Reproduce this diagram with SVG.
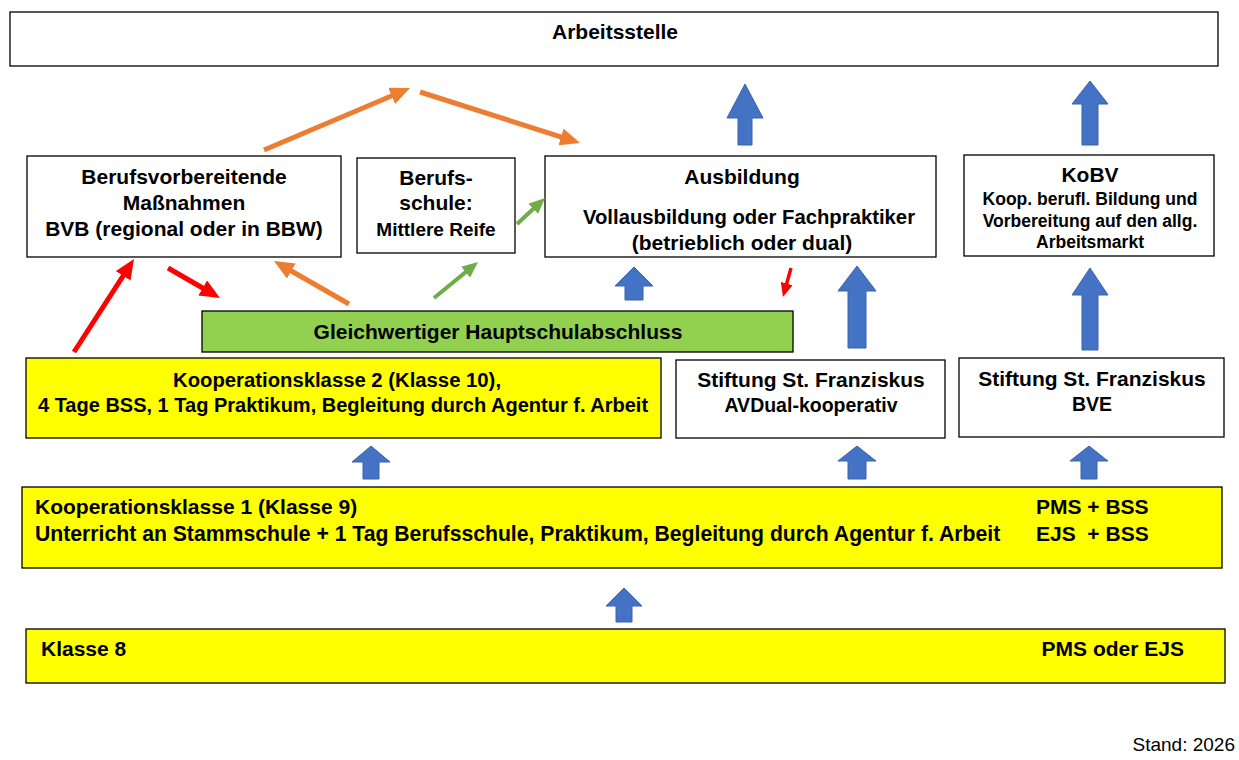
<svg xmlns="http://www.w3.org/2000/svg" width="1239" height="760" viewBox="0 0 1239 760">
<style>
text{font-family:"Liberation Sans",Arial,sans-serif;font-weight:bold;font-size:21px;fill:#000}
.c{text-anchor:middle}
.box{fill:#fff;stroke:#000;stroke-width:1.3}
.yel{fill:#ffff00;stroke:#000;stroke-width:1.3}
.grn{fill:#92d050;stroke:#000;stroke-width:1.3}
.blk{fill:#4472c4;stroke:#3a62ab;stroke-width:1}
.o{stroke:#ed7d31;stroke-width:5;fill:none}
.g{stroke:#70ad47;stroke-width:4;fill:none}
.r{stroke:#ff0000;stroke-width:5;fill:none}
</style>
<defs>
<marker id="ho" viewBox="0 0 4 3.5" refX="1.6" refY="1.75" markerWidth="4" markerHeight="3.5" orient="auto" markerUnits="strokeWidth"><path d="M0,0 L4,1.75 L0,3.5 z" fill="#ed7d31"/></marker>
<marker id="hg" viewBox="0 0 4 3.5" refX="1.6" refY="1.75" markerWidth="4" markerHeight="3.5" orient="auto" markerUnits="strokeWidth"><path d="M0,0 L4,1.75 L0,3.5 z" fill="#70ad47"/></marker>
<marker id="hr" viewBox="0 0 4 3.5" refX="1.6" refY="1.75" markerWidth="4" markerHeight="3.5" orient="auto" markerUnits="strokeWidth"><path d="M0,0 L4,1.75 L0,3.5 z" fill="#ff0000"/></marker>
</defs>
<rect width="1239" height="760" fill="#fff"/>

<g id="arbeitsstelle"><rect class="box" x="10" y="12" width="1208" height="54"/><text class="c" x="615" y="39">Arbeitsstelle</text></g>

<g id="bvb"><rect class="box" x="27" y="156" width="314" height="101"/>
<text class="c" x="184" y="184">Berufsvorbereitende</text>
<text class="c" x="184" y="210">Maßnahmen</text>
<text class="c" x="184" y="236">BVB (regional oder in BBW)</text></g>

<g id="berufsschule"><rect class="box" x="357" y="158" width="158" height="95"/>
<text class="c" x="436" y="185">Berufs-</text>
<text class="c" x="436" y="210">schule:</text>
<text class="c" x="436" y="236" style="font-size:19px">Mittlere Reife</text></g>

<g id="ausbildung"><rect class="box" x="545" y="156" width="391" height="101"/>
<text class="c" x="742" y="184">Ausbildung</text>
<text class="c" x="749" y="224" style="font-size:20.3px">Vollausbildung oder Fachpraktiker</text>
<text class="c" x="742" y="250">(betrieblich oder dual)</text></g>

<g id="kobv"><rect class="box" x="964" y="155" width="250" height="101"/>
<text class="c" x="1090" y="182">KoBV</text>
<text class="c" x="1090" y="205" style="font-size:17.5px">Koop. berufl. Bildung und</text>
<text class="c" x="1090" y="227" style="font-size:17.5px">Vorbereitung auf den allg.</text>
<text class="c" x="1090" y="248" style="font-size:17.5px">Arbeitsmarkt</text></g>

<g id="hauptschulabschluss"><rect class="grn" x="202" y="311" width="591" height="41"/>
<text class="c" x="498" y="339">Gleichwertiger Hauptschulabschluss</text></g>

<g id="koop2"><rect class="yel" x="26" y="358" width="635" height="80"/>
<text class="c" x="337" y="387" style="font-size:20.3px">Kooperationsklasse 2 (Klasse 10),</text>
<text class="c" x="343" y="412" style="font-size:20px">4 Tage BSS, 1 Tag Praktikum, Begleitung durch Agentur f. Arbeit</text></g>

<g id="avdual"><rect class="box" x="676" y="360" width="269" height="78"/>
<text class="c" x="811" y="387">Stiftung St. Franziskus</text>
<text class="c" x="811" y="412" style="font-size:19.5px">AVDual-kooperativ</text></g>

<g id="bve"><rect class="box" x="959" y="358" width="265" height="79"/>
<text class="c" x="1092" y="386">Stiftung St. Franziskus</text>
<text class="c" x="1092" y="411" style="font-size:19.5px">BVE</text></g>

<g id="koop1"><rect class="yel" x="22" y="487" width="1200" height="81"/>
<text x="35" y="514">Kooperationsklasse 1 (Klasse 9)</text>
<text x="35" y="541" style="font-size:21.2px">Unterricht an Stammschule + 1 Tag Berufsschule, Praktikum, Begleitung durch Agentur f. Arbeit</text>
<text x="1036" y="514">PMS + BSS</text>
<text x="1036" y="541" xml:space="preserve">EJS  + BSS</text></g>

<g id="klasse8"><rect class="yel" x="26" y="629" width="1199" height="54"/>
<text x="41" y="656">Klasse 8</text>
<text x="1184" y="656" style="text-anchor:end">PMS oder EJS</text></g>

<g id="stand"><text x="1235" y="751" style="text-anchor:end;font-weight:normal;font-size:19px">Stand: 2026</text></g>

<g id="connectors">
<path class="blk" d="M745,84 L763,118 L752,118 L752,145 L738,145 L738,118 L727,118 Z"/>
<path class="blk" d="M1090,81 L1108,104 L1098,104 L1098,145 L1082,145 L1082,104 L1072,104 Z"/>
<path class="blk" d="M634,267 L653,286 L643,286 L643,300 L625,300 L625,286 L615,286 Z"/>
<path class="blk" d="M857,266 L876,291 L866,291 L866,348 L848,348 L848,291 L838,291 Z"/>
<path class="blk" d="M1090,268 L1108,295 L1098,295 L1098,350 L1082,350 L1082,295 L1072,295 Z"/>
<path class="blk" d="M371,446 L390,462 L379,462 L379,479 L363,479 L363,462 L352,462 Z"/>
<path class="blk" d="M857,446 L876,461 L866,461 L866,479 L848,479 L848,461 L838,461 Z"/>
<path class="blk" d="M1089,446 L1108,461 L1097,461 L1097,479 L1081,479 L1081,461 L1070,461 Z"/>
<path class="blk" d="M624,588 L642,606 L632,606 L632,622 L616,622 L616,606 L606,606 Z"/>
<line class="o" x1="264" y1="150" x2="399" y2="92.7" marker-end="url(#ho)"/>
<line class="o" x1="420" y1="92" x2="568.6" y2="139.4" marker-end="url(#ho)"/>
<line class="o" x1="349" y1="304" x2="284.4" y2="267" marker-end="url(#ho)"/>
<line class="g" x1="434" y1="298" x2="470.6" y2="268.1" marker-end="url(#hg)"/>
<line class="g" x1="517" y1="224" x2="538" y2="204.5" marker-end="url(#hg)"/>
<line class="r" x1="74" y1="352" x2="127.5" y2="269.1" marker-end="url(#hr)"/>
<line class="r" x1="168" y1="268" x2="209.6" y2="292" marker-end="url(#hr)"/>
<line class="r" x1="791" y1="268" x2="785.2" y2="288.9" style="stroke-width:3.5" marker-end="url(#hr)"/>
</g>
</svg>
